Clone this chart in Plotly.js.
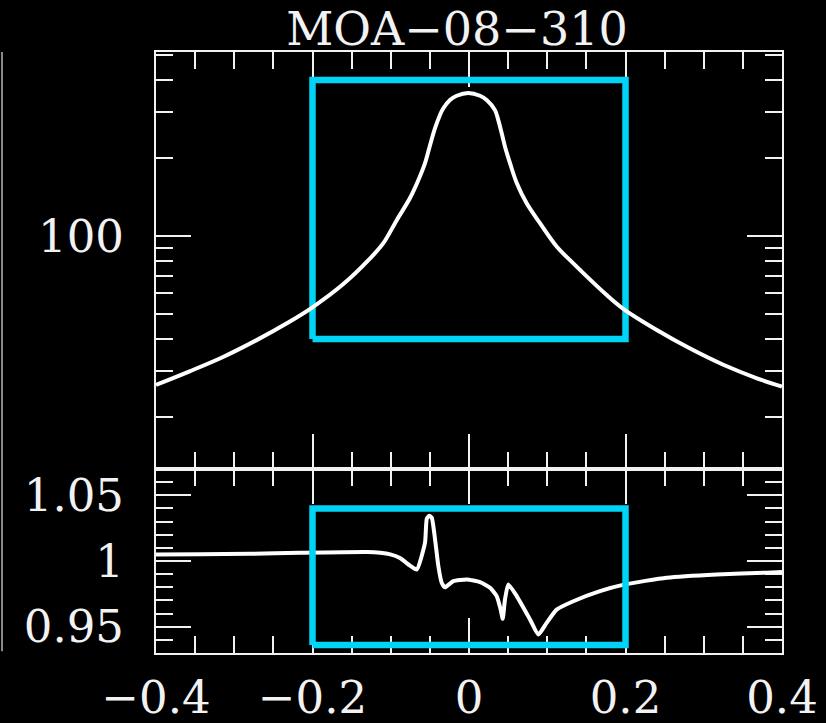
<!DOCTYPE html>
<html>
<head>
<meta charset="utf-8">
<script src="https://cdn.plot.ly/plotly-3.0.1.min.js"></script>
<style>
  html, body { margin: 0; padding: 0; background: #000; }
  #chart { width: 826px; height: 723px; }
</style>
</head>
<body>
<div id="chart"></div>
<script>
// ---- Data ----
const chartTitle = "MOA\u221208\u2212310";

// Top panel: magnification vs time (log y)
const xMag = [-0.400, -0.357, -0.315, -0.272, -0.230, -0.200, -0.161, -0.127, -0.1095, -0.0924,
              -0.0754, -0.0648, -0.0562, -0.0498, -0.0435, -0.0371, -0.0328, -0.0243, -0.0157, -0.001,
               0.0141, 0.0226, 0.0332, 0.0374, 0.0418, 0.0460, 0.0524, 0.0610, 0.0737, 0.0907,
               0.112, 0.133, 0.176, 0.199, 0.240, 0.282, 0.325, 0.368, 0.400];
const mag  = [26.6, 30.0, 34.0, 39.5, 46.5, 53.0, 65.0, 81.5, 93.7, 115,
              140, 164, 191, 224, 260, 293, 311, 335, 347.6, 356,
              347.6, 335, 306, 280, 249, 221, 191, 160, 133.6, 112,
              91, 78.5, 59.1, 51.8, 43.3, 36.8, 31.8, 28.2, 26.2];

// Bottom panel: ratio
const xRes = [-0.400, -0.344, -0.280, -0.216, -0.130, -0.1134, -0.1006, -0.0882, -0.0754, -0.0668,
              -0.0562, -0.0540, -0.0507, -0.0476, -0.0434, -0.0392, -0.0349, -0.0307, -0.0200, -0.0029,
               0.0141, 0.0269, 0.0354, 0.0405, 0.0431, 0.0460, 0.0502, 0.0610, 0.0780, 0.0886,
               0.0992, 0.1120, 0.1333, 0.1674, 0.1994, 0.2527, 0.3166, 0.3804, 0.4000];
const res  = [1.0050, 1.0052, 1.0055, 1.0062, 1.0068, 1.0062, 1.0050, 1.0022, 0.9965, 0.9935,
              1.0140, 1.0320, 1.0344, 1.0330, 1.0166, 0.9962, 0.9835, 0.9800, 0.9847, 0.9860,
              0.9840, 0.9797, 0.9733, 0.9630, 0.9560, 0.9708, 0.9822, 0.9733, 0.9555, 0.9440,
              0.9529, 0.9630, 0.9694, 0.9771, 0.9822, 0.9873, 0.9898, 0.9911, 0.9917];

// Highlight boxes
const boxX = [-0.2, 0.2];
const boxMagY = [40, 400];
const boxResY = [0.936, 1.04];

// Tick definitions
const xTickVals = [-0.4, -0.2, 0, 0.2, 0.4];
const magTickVals = [100];
const magTickText = ["100"];
const magMinorVals = [20, 30, 40, 50, 60, 70, 80, 90, 200, 300, 400, 500];
const resTickVals = [0.95, 1, 1.05];
const resTickText = ["0.95", "1", "1.05"];

// ---- Styling ----
const WHITE = "#f2f2f2";
const CYAN = "#00d3f5";
const FONT = "DejaVu Serif";

function rect(bx, by) {
  return { x: [bx[0], bx[1], bx[1], bx[0], bx[0]], y: [by[0], by[0], by[1], by[1], by[0]] };
}
const rTop = rect(boxX, boxMagY);
const rBot = rect(boxX, boxResY);

const traces = [
  { x: rTop.x, y: rTop.y, xaxis: "x", yaxis: "y", mode: "lines",
    line: { color: CYAN, width: 6.5 }, hoverinfo: "skip" },
  { x: xMag, y: mag, xaxis: "x", yaxis: "y", mode: "lines",
    line: { color: "#ffffff", width: 4, shape: "spline", smoothing: 1 } },
  { x: xRes, y: res, xaxis: "x2", yaxis: "y2", mode: "lines",
    line: { color: "#ffffff", width: 4, shape: "spline", smoothing: 0.5 } },
  { x: rBot.x, y: rBot.y, xaxis: "x2", yaxis: "y2", mode: "lines",
    line: { color: CYAN, width: 6.5 }, hoverinfo: "skip" }
];

const axBase = {
  showline: true, linecolor: WHITE, linewidth: 2, mirror: "ticks",
  ticks: "inside", ticklen: 35, tickwidth: 2, tickcolor: WHITE,
  showgrid: false, zeroline: false, layer: "below traces",
  tickfont: { family: FONT, size: 45, color: WHITE }
};

const plotTop = 52, plotBot = 653, split = 469;
const splitFrac = (plotBot - split) / (plotBot - plotTop);

const layout = {
  width: 826, height: 723,
  paper_bgcolor: "#000", plot_bgcolor: "#000",
  showlegend: false,
  margin: { l: 156, r: 44, t: plotTop, b: 723 - plotBot, pad: 0 },
  title: {
    text: chartTitle, font: { family: FONT, size: 46, color: WHITE },
    x: 457 / 826, xanchor: "center", xref: "container",
    y: 1 - 29 / 723, yanchor: "middle", yref: "container"
  },
  xaxis: Object.assign({}, axBase, {
    domain: [0, 1], anchor: "y", range: [-0.4, 0.4],
    tickvals: xTickVals, showticklabels: false,
    minor: { ticks: "inside", ticklen: 17, tickwidth: 2, tickcolor: WHITE, dtick: 0.05, tick0: 0 }
  }),
  yaxis: Object.assign({}, axBase, {
    domain: [splitFrac, 1], anchor: "x", type: "log", range: [1.100, 2.710],
    tickmode: "array", tickvals: magTickVals, ticktext: magTickText,
    ticklabelstandoff: 21,
    minor: { ticks: "inside", ticklen: 17, tickwidth: 2, tickcolor: WHITE,
             tickmode: "array", tickvals: magMinorVals }
  }),
  xaxis2: Object.assign({}, axBase, {
    domain: [0, 1], anchor: "y2", range: [-0.4, 0.4],
    tickvals: xTickVals, ticklabelstandoff: 4,
    minor: { ticks: "inside", ticklen: 17, tickwidth: 2, tickcolor: WHITE, dtick: 0.05, tick0: 0 }
  }),
  yaxis2: Object.assign({}, axBase, {
    domain: [0, splitFrac], anchor: "x2", range: [0.93, 1.07],
    tickmode: "array", tickvals: resTickVals, ticktext: resTickText,
    ticklabelstandoff: 21,
    minor: { ticks: "inside", ticklen: 17, tickwidth: 2, tickcolor: WHITE, dtick: 0.01, tick0: 0.9 }
  }),
  shapes: [
    { type: "line", xref: "paper", yref: "paper",
      x0: (2 - 156) / 626, x1: (2 - 156) / 626, y0: 0.003, y1: 1,
      line: { color: "#8a8a8a", width: 2 } }
  ]
};

Plotly.newPlot("chart", traces, layout, { staticPlot: true, displayModeBar: false });
</script>
</body>
</html>
